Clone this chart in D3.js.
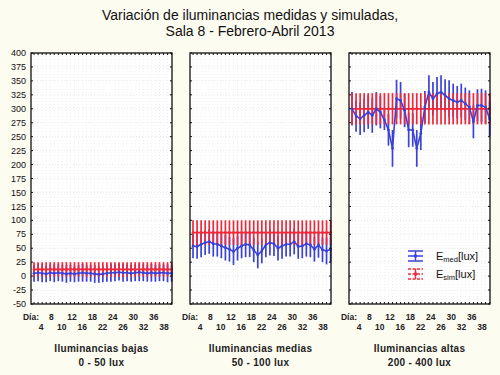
<!DOCTYPE html>
<html>
<head>
<meta charset="utf-8">
<script src="https://cdn.jsdelivr.net/npm/d3@7"></script>
<style>
    body { margin: 0; background: #fdfcf1; }
    svg { display: block; font-family: "Liberation Sans", Arial, sans-serif; }
</style>
</head>
<body>
<svg id="chart" width="500" height="375"></svg>
<script>
// titulos de cada panel
const panelTitles = ["Iluminancias bajas", "Iluminancias medias", "Iluminancias altas"];
const panelRanges = ["0 - 50 lux", "50 - 100 lux", "200 - 400 lux"];

// E_med (medidas) y su desviacion, 35 registros por sala
const medBajas = [5, 6, 5, 4, 6, 5, 6, 5, 4, 5, 4, 5, 6, 5, 5, 4, 3, 4, 5, 6, 6, 7, 6, 6, 5, 6, 7, 6, 5, 6, 5, 6, 6, 5, 5];
const errMedBajas = [15, 15, 16, 15, 15, 16, 15, 15, 16, 15, 15, 15, 16, 15, 15, 16, 15, 15, 15, 16, 15, 15, 16, 15, 15, 15, 16, 15, 15, 16, 15, 15, 15, 16, 15];
const medMedias = [54, 53, 57, 60, 62, 58, 57, 54, 51, 48, 44, 50, 54, 57, 56, 47, 38, 45, 56, 60, 58, 50, 54, 57, 57, 62, 53, 54, 58, 56, 48, 56, 47, 45, 48];
const errMedMedias = [22, 22, 23, 22, 22, 23, 22, 22, 23, 22, 24, 22, 22, 23, 22, 22, 24, 22, 22, 23, 22, 22, 23, 22, 22, 23, 22, 22, 23, 22, 22, 23, 22, 24, 23];
const medAltas = [300, 287, 282, 288, 294, 288, 300, 294, 280, 262, 229, 318, 315, 297, 262, 262, 229, 256, 303, 330, 318, 327, 330, 324, 318, 315, 312, 315, 309, 303, 277, 306, 306, 303, 282];
const errMedAltas = [30, 28, 29, 30, 30, 31, 30, 29, 18, 28, 33, 34, 33, 30, 31, 30, 33, 30, 29, 30, 30, 30, 30, 29, 33, 30, 29, 30, 29, 30, 30, 29, 30, 30, 31];

// E_sim (simuladas) y su rango
const simBajas = [12, 12, 12, 12, 12, 12, 12, 12, 12, 12, 12, 12, 12, 12, 12, 12, 12, 12, 12, 12, 12, 12, 12, 12, 12, 12, 12, 12, 12, 12, 12, 12, 12, 12, 12];
const errSimBajas = [13, 13, 13, 13, 13, 13, 13, 13, 13, 13, 13, 13, 13, 13, 13, 13, 13, 13, 13, 13, 13, 13, 13, 13, 13, 13, 13, 13, 13, 13, 13, 13, 13, 13, 13];
const simMedias = [78, 78, 78, 78, 78, 78, 78, 78, 78, 78, 78, 78, 78, 78, 78, 78, 78, 78, 78, 78, 78, 78, 78, 78, 78, 78, 78, 78, 78, 78, 78, 78, 78, 78, 78];
const errSimMedias = [22, 22, 22, 22, 22, 22, 22, 22, 22, 22, 22, 22, 22, 22, 22, 22, 22, 22, 22, 22, 22, 22, 22, 22, 22, 22, 22, 22, 22, 22, 22, 22, 22, 22, 22];
const simAltas = [300, 300, 300, 300, 300, 300, 300, 300, 300, 300, 300, 300, 300, 300, 300, 300, 300, 300, 300, 300, 300, 300, 300, 300, 300, 300, 300, 300, 300, 300, 300, 300, 300, 300, 300];
const errSimAltas = [28, 28, 28, 28, 28, 28, 28, 28, 28, 28, 28, 28, 28, 28, 28, 28, 28, 28, 28, 28, 28, 28, 28, 28, 28, 28, 28, 28, 28, 28, 28, 28, 28, 28, 28];

// ejes
const yTicks = [-50, -25, 0, 25, 50, 75, 100, 125, 150, 175, 200, 225, 250, 275, 300, 325, 350, 375, 400];
const diaLabels = ["Día:", "4", "8", "10", "12", "16", "18", "22", "24", "26", "30", "32", "36", "38"];

const blue = "#3a42d8",
    red = "#f0283a";

const svg = d3.select("#chart");

// titulo
svg.append("text")
    .attr("x", 250).attr("y", 20)
    .attr("text-anchor", "middle")
    .attr("font-size", 14)
    .attr("fill", "#111")
    .text("Variación de iluminancias medidas y simuladas,");
svg.append("text")
    .attr("x", 250).attr("y", 36)
    .attr("text-anchor", "middle")
    .attr("font-size", 14)
    .attr("fill", "#111")
    .text("Sala 8 - Febrero-Abril 2013");

const panelLeft = [31, 190, 349];
const panelW = 141,
    plotTop = 53,
    plotBottom = 304;

const y = d3.scaleLinear().domain([-50, 400]).range([plotBottom, plotTop]);

const series = [
    {med: medBajas, errMed: errMedBajas, sim: simBajas, errSim: errSimBajas},
    {med: medMedias, errMed: errMedMedias, sim: simMedias, errSim: errSimMedias},
    {med: medAltas, errMed: errMedAltas, sim: simAltas, errSim: errSimAltas}
];

series.forEach((s, p) => {
    let x0 = panelLeft[p];
    let g = svg.append("g").attr("transform", "translate(" + x0 + ",0)");
    let n = s.med.length;

    let x = d3.scaleLinear().domain([-0.75, n - 0.9]).range([0, panelW]);
    // etiquetas de dia cada ~2.5 registros
    let xLab = d3.scalePoint().domain(diaLabels).range([0, 133]);

    g.append("rect")
        .attr("x", 0).attr("y", plotTop)
        .attr("width", panelW).attr("height", plotBottom - plotTop)
        .attr("fill", "white");

    // rejilla
    g.selectAll(".gy").data(yTicks.slice(1, -1)).join("line")
        .attr("x1", 0).attr("x2", panelW)
        .attr("y1", d => y(d)).attr("y2", d => y(d))
        .attr("stroke", "#e8e8e8").attr("stroke-dasharray", "1,2");
    g.selectAll(".gx").data(d3.range(n)).join("line")
        .attr("x1", d => x(d)).attr("x2", d => x(d))
        .attr("y1", plotTop).attr("y2", plotBottom)
        .attr("stroke", "#efefef").attr("stroke-dasharray", "1,2");

    // barras E_med (debajo)
    g.selectAll(".medbar").data(s.med).join("line")
        .attr("x1", (d, i) => x(i)).attr("x2", (d, i) => x(i))
        .attr("y1", (d, i) => y(d - s.errMed[i]))
        .attr("y2", (d, i) => y(d + s.errMed[i]))
        .attr("stroke", blue).attr("stroke-width", 1.7);

    // E_sim
    g.selectAll(".simbar").data(s.sim).join("line")
        .attr("x1", (d, i) => x(i)).attr("x2", (d, i) => x(i))
        .attr("y1", (d, i) => y(d - s.errSim[i]))
        .attr("y2", (d, i) => y(d + s.errSim[i]))
        .attr("stroke", red).attr("stroke-width", 1.7);
    g.append("path")
        .datum(s.sim)
        .attr("d", d3.line().x((d, i) => x(i)).y(d => y(d)))
        .attr("fill", "none").attr("stroke", red).attr("stroke-width", 1.8);
    g.selectAll(".simpt").data(s.sim).join("circle")
        .attr("cx", (d, i) => x(i)).attr("cy", d => y(d))
        .attr("r", 1.4).attr("fill", red);

    // linea E_med
    g.append("path")
        .datum(s.med)
        .attr("d", d3.line().x((d, i) => x(i)).y(d => y(d)))
        .attr("fill", "none").attr("stroke", blue).attr("stroke-width", 1.6);
    g.selectAll(".medpt").data(s.med).join("circle")
        .attr("cx", (d, i) => x(i)).attr("cy", d => y(d))
        .attr("r", 1.4).attr("fill", blue);

    // marcas en el borde
    g.selectAll(".ty").data(yTicks).join("path")
        .attr("d", d => "M0," + y(d) + "h2M" + panelW + "," + y(d) + "h-2")
        .attr("stroke", "#111").attr("stroke-width", 1);
    g.selectAll(".tx").data(d3.range(n)).join("path")
        .attr("d", d => "M" + x(d) + "," + plotTop + "v2M" + x(d) + "," + plotBottom + "v-2")
        .attr("stroke", "#111").attr("stroke-width", 1);

    g.append("rect")
        .attr("x", 0).attr("y", plotTop)
        .attr("width", panelW).attr("height", plotBottom - plotTop)
        .attr("fill", "none").attr("stroke", "#111").attr("stroke-width", 1.3);

    // etiquetas eje x (dos filas alternadas)
    g.selectAll(".lx").data(diaLabels).join("text")
        .attr("x", d => xLab(d))
        .attr("y", (d, i) => i % 2 === 0 ? 319.5 : 329.5)
        .attr("text-anchor", "middle")
        .attr("font-size", 8.5).attr("font-weight", "bold")
        .attr("fill", "#222")
        .text(d => d);

    // subtitulos
    g.append("text")
        .attr("x", panelW / 2).attr("y", 352)
        .attr("text-anchor", "middle")
        .attr("font-size", 10).attr("font-weight", "bold")
        .attr("letter-spacing", 0.3)
        .attr("fill", "#222")
        .text(panelTitles[p]);
    g.append("text")
        .attr("x", panelW / 2).attr("y", 366)
        .attr("text-anchor", "middle")
        .attr("font-size", 10).attr("font-weight", "bold")
        .attr("letter-spacing", 0.3)
        .attr("fill", "#222")
        .text(panelRanges[p]);
});

// eje y (solo el primer panel)
svg.append("g").selectAll("text").data(yTicks).join("text")
    .attr("x", 26)
    .attr("y", d => y(d))
    .attr("dy", "0.35em")
    .attr("text-anchor", "end")
    .attr("font-size", 9)
    .attr("fill", "#111")
    .text(d => d);

// leyenda
const legend = svg.append("g");
function legendItem(cy, color, dash, label, sub) {
    let lg = legend.append("g");
    [-5, 0, 5].forEach(dy => {
        lg.append("line")
            .attr("x1", 408).attr("x2", 423)
            .attr("y1", cy + dy).attr("y2", cy + dy)
            .attr("stroke", color).attr("stroke-width", 1.5)
            .attr("stroke-dasharray", dash);
    });
    lg.append("line")
        .attr("x1", 415.5).attr("x2", 415.5)
        .attr("y1", cy - 5).attr("y2", cy + 5)
        .attr("stroke", color).attr("stroke-width", 1.5);
    lg.append("circle").attr("cx", 415.5).attr("cy", cy).attr("r", 1.7).attr("fill", color);
    let t = lg.append("text")
        .attr("x", 436).attr("y", cy + 4)
        .attr("font-size", 11).attr("fill", "#111");
    t.append("tspan").text(label);
    t.append("tspan").attr("font-size", 7.5).attr("dy", 2).text(sub);
    t.append("tspan").attr("dy", -2).text("[lux]");
}
legendItem(256, blue, null, "E", "med");
legendItem(274, red, "3,1.5", "E", "sim");
</script>
</body>
</html>
